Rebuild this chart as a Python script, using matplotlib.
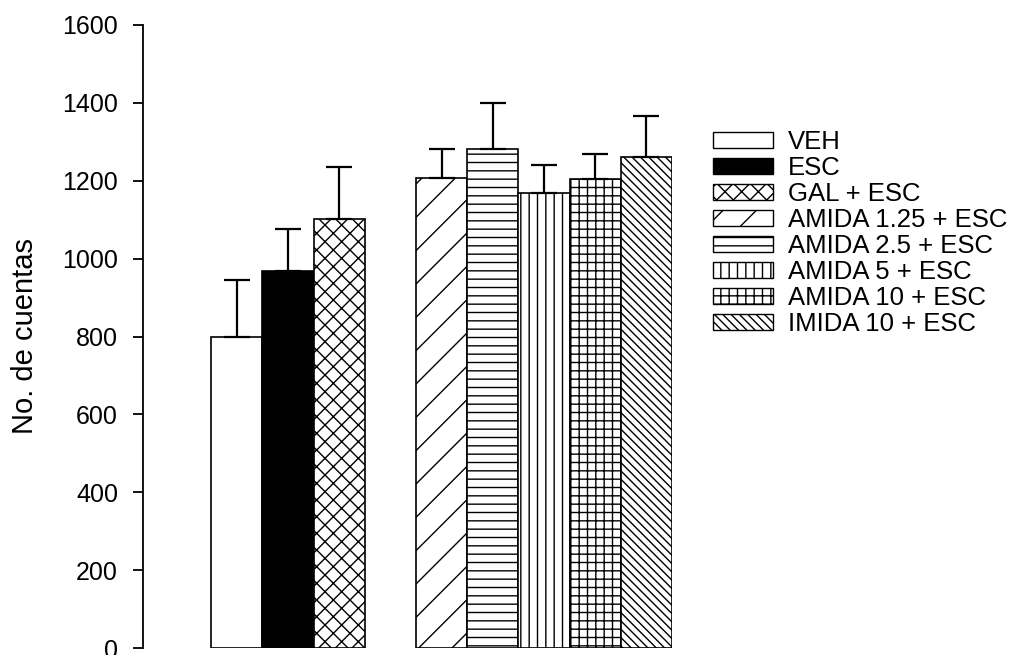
import numpy as np
import matplotlib.pyplot as plt
from matplotlib.patches import Patch

plt.rcParams['font.family'] = ['Liberation Sans', 'DejaVu Sans']
plt.rcParams['hatch.linewidth'] = 1.0

# %% data
groups = ['VEH', 'ESC', 'GAL + ESC', 'AMIDA 1.25 + ESC', 'AMIDA 2.5 + ESC',
          'AMIDA 5 + ESC', 'AMIDA 10 + ESC', 'IMIDA 10 + ESC']
means = [800, 969, 1103, 1208, 1282, 1169, 1205, 1262]
sem = [146, 108, 133, 74, 118, 72, 64, 105]
positions = [0, 1, 2, 4, 5, 6, 7, 8]

# %% styles
fills = ['white', 'black', 'white', 'white', 'white', 'white', 'white', 'white']
hatches = [None, None, 'xx', '/', '--', '||', '++', '\\\\\\\\']

fig = plt.figure(figsize=(10.11, 6.55), dpi=100)
ax = fig.add_axes([143 / 1011, 7 / 655, (672 - 143) / 1011, 623 / 655])

for x, m, e, fc, h in zip(positions, means, sem, fills, hatches):
    ax.bar(x, m, width=1.0, color=fc, edgecolor='black', linewidth=1.2, hatch=h)
    ax.errorbar(x, m, yerr=[[0], [e]], color='black', capsize=9.5, elinewidth=1.6,
                capthick=1.6, fmt='none')

ax.set_xlim(-1.83, 8.5)
ax.set_ylim(0, 1600)
ax.set_yticks(np.arange(0, 1601, 200))
ax.set_xticks([])
for s in ['top', 'right', 'bottom']:
    ax.spines[s].set_visible(False)
ax.spines['left'].set_linewidth(1.3)
ax.tick_params(axis='y', direction='out', length=7, width=1.3, labelsize=18, pad=11)
ax.set_ylabel('No. de cuentas', fontsize=21, labelpad=17)

handles = [Patch(facecolor=fc, edgecolor='black', hatch=h, linewidth=1.0)
           for fc, h in zip(fills, hatches)]
fig.legend(handles, groups, loc='upper left', bbox_to_anchor=(713 / 1011, 1 - 130 / 655),
           frameon=False, fontsize=18.5, handlelength=2.35, handleheight=0.6,
           labelspacing=0.08, handletextpad=0.55, borderpad=0, borderaxespad=0)

fig.savefig('out.png', dpi=100)
